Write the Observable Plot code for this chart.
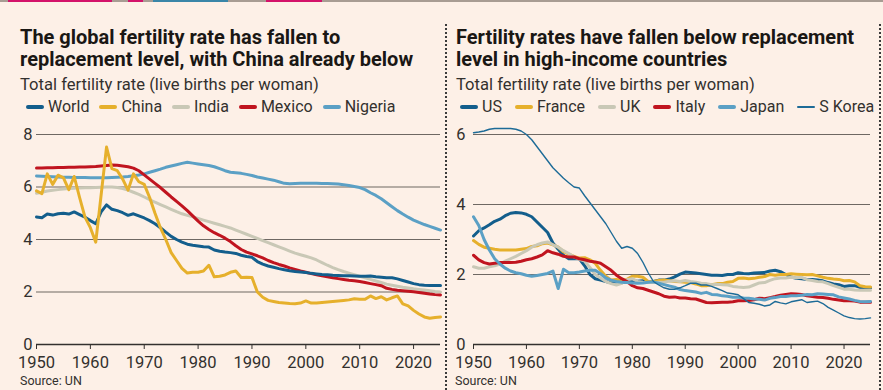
<!DOCTYPE html>
<html><head><meta charset="utf-8">
<script src="https://cdn.jsdelivr.net/npm/d3@7"></script>
<script src="https://cdn.jsdelivr.net/npm/@observablehq/plot@0.6"></script>
<style>
html,body{margin:0;padding:0;background:#fdf0e7;}
#page{position:relative;width:883px;height:390px;overflow:hidden;background:#fdf0e7;font-family:"Roboto",sans-serif;color:#1f1a17;}
.title{position:absolute;font-weight:700;font-size:20px;line-height:22px;white-space:nowrap;color:#1a1714;}
.sub{position:absolute;font-size:16.6px;line-height:18px;white-space:nowrap;color:#33302e;}
.legend{position:absolute;font-size:16px;line-height:18px;white-space:nowrap;color:#33302e;display:flex;align-items:center;}
.legend .item{display:inline-flex;align-items:center;margin-right:10px;}
#legR .item{margin-right:13px;}
.legend .sw{display:inline-block;width:18px;height:4px;border-radius:2px;margin-right:4px;}
.source{position:absolute;font-size:12.5px;line-height:12px;color:#33302e;white-space:nowrap;}
.chart{position:absolute;top:120px;}
.sep{position:absolute;top:24px;height:366px;border-left:2px dotted #3a3a3a;}
.strip{position:absolute;top:0;height:2px;}
</style>
</head><body>
<div id="page">
  <div class="strip" style="left:0;width:883px;background:#a89c93"></div>
  <div class="strip" style="left:8px;width:104px;background:#d4126a"></div>
  <div class="strip" style="left:128px;width:15px;background:#d4126a"></div>
  <div class="strip" style="left:153px;width:75px;background:#3a86a8"></div>
  <div class="strip" style="left:266px;width:56px;background:#d4126a"></div>

  <div class="title" style="left:20px;top:26px">The global fertility rate has fallen to<br>replacement level, with China already below</div>
  <div class="sub" style="left:20px;top:76px">Total fertility rate (live births per woman)</div>
  <div class="legend" id="legL" style="left:26px;top:98px"></div>
  <div class="chart" id="chartL" style="left:0px"></div>
  <div class="source" style="left:20px;top:375px">Source: UN</div>

  <div class="sep" style="left:445px"></div>
  <div class="sep" style="left:879px"></div>

  <div class="title" style="left:456px;top:26px">Fertility rates have fallen below replacement<br>level in high-income countries</div>
  <div class="sub" style="left:456px;top:76px">Total fertility rate (live births per woman)</div>
  <div class="legend" id="legR" style="left:460px;top:98px"></div>
  <div class="chart" id="chartR" style="left:447px"></div>
  <div class="source" style="left:455px;top:375px">Source: UN</div>
</div>
<script>
// ---------- data ----------
const years = d3.range(1950, 2026);
const xTicks = [1950, 1960, 1970, 1980, 1990, 2000, 2010, 2020];
const leftYTicks = [0, 2, 4, 6, 8];
const rightYTicks = [0, 2, 4, 6];

const leftNames = ["World", "China", "India", "Mexico", "Nigeria"];
const leftColors = ["#135e8c", "#e6b02c", "#c9c8b6", "#c0141f", "#5ba0c5"];

const world = [4.86,4.83,4.97,4.93,4.98,5.00,4.97,5.05,4.95,4.85,4.72,4.60,5.05,5.32,5.15,5.10,5.02,4.92,4.98,4.90,4.82,4.72,4.60,4.45,4.28,4.12,4.00,3.90,3.82,3.78,3.75,3.72,3.71,3.60,3.55,3.52,3.50,3.47,3.40,3.35,3.32,3.16,3.06,2.99,2.94,2.89,2.85,2.81,2.78,2.76,2.74,2.71,2.69,2.67,2.66,2.64,2.63,2.62,2.62,2.61,2.60,2.60,2.61,2.58,2.56,2.54,2.54,2.50,2.44,2.38,2.32,2.28,2.26,2.25,2.25,2.25];
const china = [5.85,5.75,6.50,6.10,6.45,6.35,5.90,6.40,5.60,4.85,4.45,3.90,5.70,7.52,6.70,6.62,6.30,5.88,6.50,6.20,6.10,5.60,5.00,4.45,4.00,3.50,3.20,2.90,2.72,2.75,2.75,2.80,3.02,2.58,2.60,2.65,2.75,2.80,2.55,2.56,2.55,2.00,1.80,1.68,1.64,1.60,1.58,1.56,1.55,1.58,1.66,1.58,1.58,1.60,1.62,1.64,1.66,1.68,1.70,1.74,1.72,1.72,1.85,1.75,1.82,1.70,1.78,1.85,1.55,1.47,1.30,1.16,1.05,1.00,1.03,1.05];
const india = [5.76,5.80,5.85,5.88,5.90,5.92,5.94,5.95,5.96,5.97,5.97,5.98,5.99,6.00,6.00,5.98,5.94,5.88,5.80,5.72,5.62,5.52,5.42,5.33,5.24,5.15,5.06,4.98,4.92,4.86,4.80,4.74,4.68,4.62,4.56,4.50,4.44,4.36,4.28,4.20,4.12,4.04,3.96,3.88,3.80,3.72,3.64,3.56,3.48,3.42,3.36,3.30,3.22,3.12,3.02,2.93,2.85,2.78,2.72,2.66,2.60,2.54,2.48,2.42,2.36,2.30,2.26,2.22,2.18,2.15,2.12,2.10,2.08,2.05,2.02,2.00];
const mexico = [6.72,6.72,6.73,6.73,6.74,6.74,6.75,6.75,6.76,6.76,6.77,6.78,6.80,6.82,6.84,6.83,6.80,6.77,6.72,6.62,6.46,6.30,6.14,5.98,5.80,5.62,5.45,5.28,5.10,4.90,4.70,4.52,4.38,4.26,4.16,4.05,3.92,3.76,3.62,3.52,3.45,3.38,3.30,3.20,3.12,3.05,2.99,2.92,2.86,2.80,2.75,2.70,2.66,2.62,2.58,2.54,2.51,2.48,2.45,2.43,2.40,2.36,2.32,2.28,2.24,2.14,2.10,2.07,2.05,2.03,2.01,1.98,1.95,1.92,1.90,1.89];
const nigeria = [6.42,6.41,6.40,6.39,6.38,6.37,6.37,6.36,6.36,6.36,6.35,6.35,6.35,6.35,6.36,6.37,6.38,6.40,6.43,6.46,6.50,6.56,6.62,6.68,6.75,6.80,6.85,6.90,6.94,6.91,6.88,6.85,6.82,6.77,6.70,6.62,6.56,6.54,6.52,6.48,6.44,6.38,6.34,6.30,6.26,6.20,6.14,6.12,6.13,6.14,6.14,6.14,6.14,6.13,6.13,6.12,6.11,6.09,6.06,6.02,5.98,5.90,5.78,5.68,5.55,5.40,5.25,5.10,4.97,4.85,4.74,4.65,4.57,4.50,4.43,4.36];

const rightNames = ["US", "France", "UK", "Italy", "Japan", "S Korea"];
const rightColors = ["#135e8c", "#e6b02c", "#c9c8b6", "#c0141f", "#5ba0c5", "#1d6b97"];

const us = [3.10,3.25,3.33,3.42,3.52,3.58,3.68,3.75,3.77,3.76,3.72,3.65,3.50,3.35,3.20,2.90,2.72,2.55,2.45,2.45,2.45,2.25,2.00,1.88,1.84,1.80,1.76,1.79,1.76,1.80,1.83,1.81,1.82,1.79,1.80,1.84,1.84,1.87,1.93,2.01,2.07,2.06,2.04,2.02,2.00,1.98,1.98,1.97,2.00,2.00,2.05,2.03,2.02,2.04,2.05,2.06,2.10,2.12,2.08,2.00,1.93,1.89,1.88,1.86,1.86,1.84,1.82,1.77,1.73,1.71,1.66,1.68,1.68,1.63,1.62,1.62];
const france = [2.97,2.86,2.78,2.75,2.72,2.70,2.70,2.70,2.70,2.72,2.74,2.80,2.82,2.88,2.90,2.85,2.78,2.65,2.58,2.52,2.47,2.48,2.42,2.32,2.12,1.95,1.84,1.86,1.83,1.86,1.95,1.95,1.92,1.80,1.80,1.83,1.84,1.82,1.80,1.79,1.78,1.77,1.73,1.68,1.68,1.71,1.74,1.74,1.78,1.80,1.89,1.90,1.88,1.89,1.92,1.94,2.00,1.98,2.00,2.00,2.02,2.01,2.00,1.99,2.00,1.96,1.92,1.89,1.87,1.86,1.82,1.83,1.79,1.68,1.65,1.64];
const uk = [2.22,2.18,2.18,2.22,2.25,2.30,2.38,2.45,2.52,2.60,2.68,2.78,2.85,2.90,2.93,2.85,2.78,2.68,2.60,2.50,2.43,2.38,2.20,2.00,1.90,1.80,1.74,1.70,1.75,1.85,1.88,1.80,1.78,1.77,1.77,1.78,1.78,1.81,1.82,1.80,1.83,1.80,1.78,1.75,1.74,1.71,1.72,1.71,1.70,1.66,1.64,1.63,1.64,1.70,1.76,1.77,1.83,1.88,1.90,1.90,1.92,1.91,1.92,1.85,1.83,1.80,1.79,1.74,1.68,1.63,1.58,1.58,1.56,1.55,1.55,1.55];
const italy = [2.55,2.42,2.34,2.30,2.32,2.34,2.34,2.34,2.35,2.38,2.42,2.45,2.50,2.56,2.68,2.62,2.58,2.52,2.50,2.50,2.45,2.42,2.38,2.36,2.32,2.22,2.12,1.98,1.88,1.80,1.68,1.62,1.60,1.55,1.50,1.45,1.38,1.35,1.36,1.33,1.33,1.31,1.30,1.25,1.20,1.19,1.20,1.21,1.21,1.22,1.25,1.25,1.26,1.28,1.32,1.31,1.34,1.37,1.41,1.43,1.45,1.44,1.43,1.39,1.37,1.35,1.34,1.32,1.29,1.27,1.25,1.25,1.24,1.21,1.21,1.21];
const japan = [3.65,3.40,3.00,2.70,2.45,2.30,2.18,2.10,2.05,2.02,1.98,1.95,1.97,2.00,2.03,2.10,1.60,2.15,2.05,2.05,2.07,2.10,2.12,2.12,2.02,1.90,1.84,1.80,1.78,1.77,1.76,1.75,1.76,1.78,1.79,1.75,1.71,1.67,1.64,1.57,1.54,1.52,1.50,1.46,1.49,1.43,1.42,1.39,1.38,1.35,1.35,1.33,1.32,1.30,1.29,1.27,1.32,1.34,1.37,1.37,1.39,1.39,1.41,1.43,1.42,1.45,1.44,1.43,1.42,1.36,1.33,1.30,1.26,1.23,1.22,1.23];
const skorea = [6.05,6.07,6.10,6.15,6.17,6.17,6.17,6.17,6.15,6.10,6.00,5.85,5.65,5.45,5.25,5.05,4.90,4.75,4.62,4.50,4.47,4.25,4.05,3.85,3.65,3.45,3.20,2.95,2.75,2.80,2.75,2.60,2.35,2.05,1.80,1.70,1.62,1.58,1.58,1.62,1.68,1.75,1.75,1.70,1.70,1.66,1.60,1.54,1.47,1.45,1.42,1.31,1.20,1.18,1.15,1.10,1.13,1.23,1.19,1.16,1.22,1.25,1.28,1.20,1.22,1.24,1.17,1.06,0.98,0.90,0.82,0.77,0.74,0.73,0.74,0.76];

const leftValues = [world, china, india, mexico, nigeria];
const rightValues = [us, france, uk, italy, japan, skorea];
const leftDrawOrder = ["Nigeria", "India", "Mexico", "World", "China"];
const rightDrawOrder = ["US", "France", "UK", "Italy", "Japan", "S Korea"];
const thinSeries = ["S Korea"];

// ---------- helpers ----------
function toRows(names, values) {
  const rows = [];
  names.forEach((n, k) => values[k].forEach((v, i) => rows.push({series: n, year: years[i], value: v})));
  return rows;
}
function legend(el, names, colors) {
  names.forEach((n, k) => {
    const item = document.createElement("span");
    item.className = "item";
    const sw = document.createElement("span");
    sw.className = "sw";
    sw.style.background = colors[k];
    if (thinSeries.includes(n)) { sw.style.height = "2px"; }
    item.appendChild(sw);
    item.appendChild(document.createTextNode(n));
    el.appendChild(item);
  });
}
const FONT = '"Roboto", sans-serif';
function chart(names, colors, values, order, yTicks, opts) {
  const rows = toRows(names, values);
  const lines = order.map(n => Plot.line(rows.filter(r => r.series === n), {
    x: "year", y: "value", stroke: "series",
    strokeWidth: thinSeries.includes(n) ? 1.4 : 3,
    strokeLinejoin: "round", strokeLinecap: "round"
  }));
  return Plot.plot({
    width: opts.width, height: 270,
    marginTop: 14, marginBottom: 46, marginLeft: opts.ml, marginRight: opts.mr,
    style: {background: "transparent", fontFamily: FONT, fontSize: "16.5px", color: "#33302e", overflow: "visible"},
    x: {domain: [1950, 2025], ticks: xTicks, tickFormat: d => String(d), tickSize: 5, tickPadding: 7, label: null},
    y: {domain: [0, yTicks[yTicks.length - 1]], ticks: yTicks, tickFormat: d => String(d), tickSize: 0, tickPadding: opts.yPad, label: null},
    color: {domain: names, range: colors},
    marks: [
      Plot.ruleY(yTicks.filter(t => t > 0), {stroke: "#6e6863", strokeWidth: 1.1}),
      Plot.ruleY([0], {stroke: "#33302e", strokeWidth: 1.3}),
      ...lines
    ]
  });
}

legend(document.getElementById("legL"), leftNames, leftColors);
legend(document.getElementById("legR"), rightNames, rightColors);
document.getElementById("chartL").appendChild(chart(leftNames, leftColors, leftValues, leftDrawOrder, leftYTicks, {width: 444, ml: 36, mr: 4, yPad: 4}));
document.getElementById("chartR").appendChild(chart(rightNames, rightColors, rightValues, rightDrawOrder, rightYTicks, {width: 436, ml: 26, mr: 13, yPad: 8}));
</script>
</body></html>
